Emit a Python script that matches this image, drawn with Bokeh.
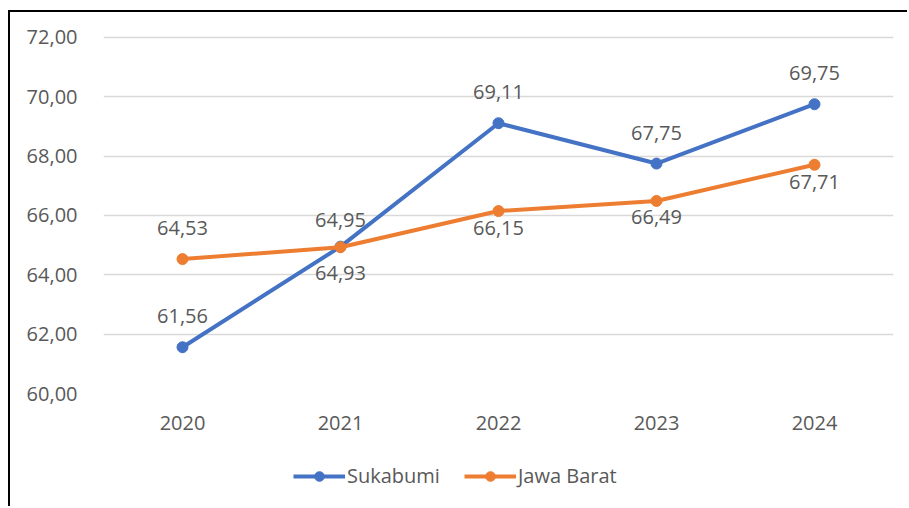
from bokeh.plotting import figure
from bokeh.layouts import column
from bokeh.models import ColumnDataSource, FactorRange, Range1d, FixedTicker, Legend, LegendItem, LabelSet
from bokeh.core.properties import value
from bokeh.embed import file_html
from bokeh.resources import INLINE

years = ["2020", "2021", "2022", "2023", "2024"]
sukabumi = [61.56, 64.95, 69.11, 67.75, 69.75]
jawa_barat = [64.53, 64.93, 66.15, 66.49, 67.71]
y_ticks = [60, 62, 64, 66, 68, 70, 72]
y_tick_labels = ["60,00", "62,00", "64,00", "66,00", "68,00", "70,00", "72,00"]
series_names = ["Sukabumi", "Jawa Barat"]

def fmt(v):
    return f"{v:.2f}".replace(".", ",")

BLUE = "#4472C4"
ORANGE = "#ED7D31"
GRAY = "#595959"
FONT = "Open Sans"
FS = "20px"

# label vertical offsets (screen px; positive = above)
suk_off = [31, 27, 31, 31, 31]
jb_off = [31, -26, -17, -16, -17]

src_s = ColumnDataSource(dict(x=years, y=sukabumi, lab=[fmt(v) for v in sukabumi], off=suk_off))
src_j = ColumnDataSource(dict(x=years, y=jawa_barat, lab=[fmt(v) for v in jawa_barat], off=jb_off))

p = figure(width=897, height=436, x_range=FactorRange(*years), y_range=Range1d(60, 72.1),
           output_backend="svg", toolbar_location=None,
           min_border_left=93, min_border_right=14, min_border_top=22, min_border_bottom=55)
p.outline_line_color = None
p.background_fill_color = "white"
p.border_fill_color = "white"

p.line("x", "y", source=src_s, line_color=BLUE, line_width=4)
p.scatter("x", "y", source=src_s, size=11, fill_color=BLUE, line_color=BLUE)
p.line("x", "y", source=src_j, line_color=ORANGE, line_width=4)
p.scatter("x", "y", source=src_j, size=11, fill_color=ORANGE, line_color=ORANGE)

for src in (src_s, src_j):
    ls = LabelSet(x="x", y="y", text="lab", source=src, y_offset="off", text_align="center",
                  text_baseline="middle", text_color=GRAY, text_font=value(FONT), text_font_size=value(FS))
    p.add_layout(ls)

p.xgrid.grid_line_color = None
p.ygrid.grid_line_color = "#D9D9D9"
p.ygrid.grid_line_width = 1.5
p.yaxis.ticker = FixedTicker(ticks=y_ticks)
p.yaxis.major_label_overrides = {t: s for t, s in zip(y_ticks, y_tick_labels)}
for ax in (p.xaxis, p.yaxis):
    ax.axis_line_color = None
    ax.major_tick_line_color = None
    ax.minor_tick_line_color = None
    ax.major_label_text_color = GRAY
    ax.major_label_text_font = FONT
    ax.major_label_text_font_size = FS
p.yaxis.major_label_standoff = 20
p.xaxis.major_label_standoff = 16

# legend strip
q = figure(width=897, height=58, output_backend="svg", toolbar_location=None,
           min_border=0, x_range=Range1d(0, 1), y_range=Range1d(0, 1))
q.outline_line_color = None
q.axis.visible = False
q.grid.grid_line_color = None
items = []
for name, col in zip(series_names, (BLUE, ORANGE)):
    dummy = ColumnDataSource(dict(x=[float("nan")], y=[float("nan")]))
    r1 = q.line("x", "y", source=dummy, line_color=col, line_width=4)
    r2 = q.scatter("x", "y", source=dummy, size=11, fill_color=col, line_color=col)
    items.append(LegendItem(label=name, renderers=[r1, r2]))
legend = Legend(items=items, orientation="horizontal", location=(190, 17),
                glyph_width=52, glyph_height=24, label_standoff=2, spacing=24,
                label_text_color=GRAY, label_text_font=FONT, label_text_font_size=FS,
                border_line_color=None, background_fill_alpha=0, margin=0, padding=0)
q.add_layout(legend, "center")

layout = column(p, q, spacing=0,
                styles={"border-left": "2px solid #000", "border-top": "2px solid #000",
                        "margin-left": "8px", "margin-top": "10px"})
open("out.html", "w").write(file_html(layout, INLINE))
